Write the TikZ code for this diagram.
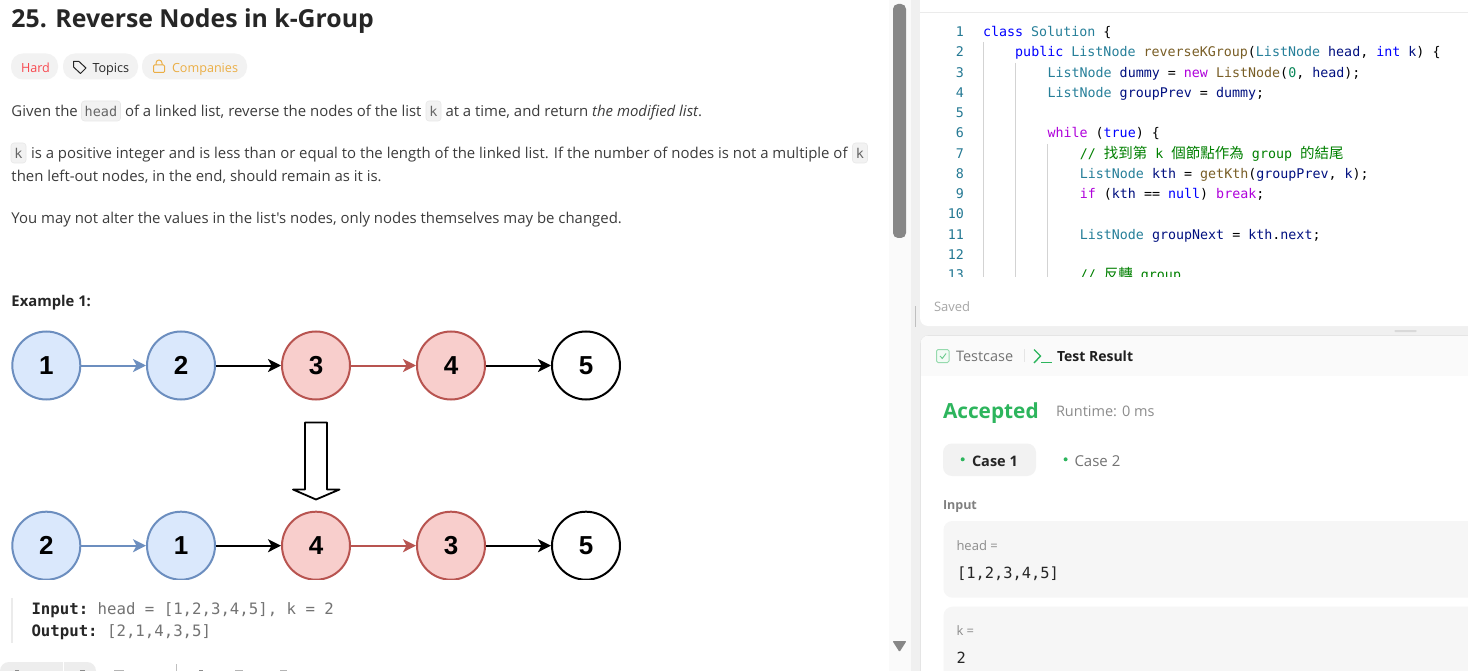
\documentclass[tikz,border=0pt]{standalone}
\usepackage{fontspec}
\setmainfont[Ligatures=TeXOff]{Open Sans}
\setsansfont{Liberation Sans}
\setmonofont{DejaVu Sans Mono}
\newfontfamily\cjkfont{Noto Sans CJK TC}
\usetikzlibrary{arrows.meta,calc}
\definecolor{blueF}{HTML}{DAE8FC}
\definecolor{blueD}{HTML}{6C8EBF}
\definecolor{redF}{HTML}{F8CECC}
\definecolor{redD}{HTML}{B85450}
\definecolor{txt}{HTML}{262626}
\definecolor{body}{HTML}{3C3C3C}
\definecolor{panel}{HTML}{F0F0F0}
\definecolor{chip}{HTML}{F2F2F2}
\definecolor{kw}{HTML}{0000FF}
\definecolor{ty}{HTML}{267F99}
\definecolor{fn}{HTML}{795E26}
\definecolor{vr}{HTML}{001080}
\definecolor{ctl}{HTML}{AF00DB}
\definecolor{cm}{HTML}{008000}
\definecolor{nm}{HTML}{098658}
\definecolor{lnum}{HTML}{237893}
\definecolor{guide}{HTML}{D3D3D3}
\definecolor{grn}{HTML}{2DB55D}
\definecolor{hardc}{HTML}{F8484F}
\definecolor{compc}{HTML}{EBAE44}
\definecolor{hintc}{HTML}{8C8C8C}
\definecolor{hintl}{HTML}{B4B4B4}
\tikzset{
 lab/.style={anchor=base west,inner sep=0pt,outer sep=0pt},
 bodytext/.style={lab,text=body,font=\fontsize{14.93}{14.93}\selectfont},
 pilltext/.style={lab,font=\fontsize{12.6}{12.6}\selectfont},
 pill/.style={fill=chip,rounded corners=12pt,inner sep=0pt,minimum height=26pt,anchor=center},
 inl/.style={fill=chip,draw=black!9,line width=.6pt,rounded corners=3pt,inner sep=0pt,minimum height=20pt,text=black!60,font=\ttfamily\fontsize{13.5}{13.5}\selectfont},
 ll/.style={circle,minimum size=68pt,inner sep=0pt,line width=2pt,font=\sffamily\bfseries\fontsize{26}{26}\selectfont,text=black},
 bn/.style={ll,fill=blueF,draw=blueD},
 rn/.style={ll,fill=redF,draw=redD},
 wn/.style={ll,fill=white,draw=black},
 barrow/.style={-{Stealth[length=13pt,width=13pt,inset=3.5pt]},line width=2pt,blueD},
 rarrow/.style={barrow,redD},
 karrow/.style={barrow,black},
 code/.style={lab,font=\ttfamily\fontsize{13.33}{13.33}\selectfont},
 lno/.style={anchor=base east,inner sep=0pt,text=lnum,font=\ttfamily\fontsize{13.33}{13.33}\selectfont},
 guideline/.style={guide,line width=.8pt},
 card/.style={fill=black!3.5,rounded corners=9pt}
}
\newcommand{\K}[1]{\textcolor{kw}{#1}}
\newcommand{\Ty}[1]{\textcolor{ty}{#1}}
\newcommand{\Fn}[1]{\textcolor{fn}{#1}}
\newcommand{\Vr}[1]{\textcolor{vr}{#1}}
\newcommand{\Ct}[1]{\textcolor{ctl}{#1}}
\newcommand{\Cj}[1]{{\cjkfont\fontsize{14.5}{14.5}\selectfont #1}}
\begin{document}
\begin{tikzpicture}[x=1pt,y=-1pt]
\useasboundingbox (0,0) rectangle (1468,671);
\fill[white] (0,0) rectangle (1468,671);
% left panel
\node[lab,text=txt,font=\fontsize{24.8}{24.8}\selectfont\bfseries] (title) at (11.5,28) {25. Reverse Nodes in k-Group};
\node[pill,minimum width=47pt] (hardp) at (34.5,66.5) {};
\node[pilltext,text=hardc] (hard) at (21,73) {Hard};
\node[pill,minimum width=75pt] (topp) at (100.5,66.5) {};
\draw[black!85,line width=1pt,line join=round] (73.5,61.5) -- (79,61.5) -- (86,68) -- (80.5,73.5) -- (73.5,67) -- cycle;
\node[pilltext,text=txt] (topics) at (92.5,73) {Topics};
\node[pill,minimum width=105pt] (comp) at (194.5,66.5) {};
\draw[compc,line width=1pt,rounded corners=1pt] (153.5,65) rectangle (164.5,72.5);
\draw[compc,line width=1pt] (156,65) -- (156,63) arc[start angle=180,end angle=360,radius=3] -- (162,65);
\node[pilltext,text=compc] (companies) at (172,73) {Companies};

\node[bodytext] (p1a) at (11.5,116.4) {Given the};
\node[inl,minimum width=39pt] (ihead) at (101,111) {head};
\node[bodytext] (p1b) at (125,116.4) {of a linked list, reverse the nodes of the list};
\node[inl,minimum width=15pt] (ik1) at (433.5,111) {k};
\node[bodytext] (p1c) at (445.5,116.4) {at a time, and return \textit{the modified list}.};
\node[inl,minimum width=15pt] (ik2) at (18.5,153) {k};
\node[bodytext] (p2a) at (31,158.4) {is a positive integer and is less than or equal to the length of the linked list. If the number of nodes is not a multiple of};
\node[inl,minimum width=15pt] (ik3) at (860,153) {k};
\node[bodytext] (p2b) at (11.5,181.4) {then left-out nodes, in the end, should remain as it is.};
\node[bodytext] (p3) at (11.5,223.4) {You may not alter the values in the list's nodes, only nodes themselves may be changed.};
\node[lab,text=txt,font=\fontsize{14.8}{14.8}\selectfont\bfseries] (ex) at (11.5,306) {Example 1:};

% diagram
\begin{scope}
\clip (0,320) rectangle (620.8,579.6);
\foreach \n/\s/\t/\x/\y in {a1/bn/1/46.3/365.5,a2/bn/2/181/365.5,a3/rn/3/316/365.5,a4/rn/4/451/365.5,a5/wn/5/586/365.5,
 b1/bn/2/46.3/545.7,b2/bn/1/181/545.7,b3/rn/4/316/545.7,b4/rn/3/451/545.7,b5/wn/5/586/545.7}
  \node[\s] (\n) at (\x,\y) {\t};
\draw[barrow] (a1) -- (a2); \draw[karrow] (a2) -- (a3); \draw[rarrow] (a3) -- (a4); \draw[karrow] (a4) -- (a5);
\draw[barrow] (b1) -- (b2); \draw[karrow] (b2) -- (b3); \draw[rarrow] (b3) -- (b4); \draw[karrow] (b4) -- (b5);
\draw[line width=1.8pt,line join=round,fill=white] (305,422.5) -- (327,422.5) -- (327,489.5) -- (339.5,489.5) -- (316,499.5) -- (293,489.5) -- (305,489.5) -- cycle;
\end{scope}

% example block
\fill[black!8] (11,598) rectangle (13,643);
\node[lab,font=\ttfamily\fontsize{15.7}{15.7}\selectfont,text=black!55] (inp) at (31.5,614) {\textcolor{txt}{\bfseries Input:} head = [1,2,3,4,5], k = 2};
\node[lab,font=\ttfamily\fontsize{15.7}{15.7}\selectfont,text=black!55] (outp) at (31.5,636) {\textcolor{txt}{\bfseries Output:} [2,1,4,3,5]};

% clipped bottom row of left panel
\begin{scope}
\clip (0,660) rectangle (889,671);
\fill[black!7,rounded corners=9pt] (0,662) rectangle (96,690);
\fill[white] (63,660) rectangle (64,671);
\fill[hintc] (15,669.5) rectangle +(4,2);
\fill[hintc] (80,669.5) rectangle +(5,2);
\fill[hintl] (114,670) rectangle +(10,1);
\fill[black!25] (176,664) rectangle +(.8,7);
\fill[hintc] (199,669.5) rectangle +(4,2);
\fill[hintl] (235,669.5) rectangle +(8,2);
\fill[hintl] (280,670) rectangle +(7,1);
\end{scope}

% scrollbar
\fill[black!2] (889,0) rectangle (911,671);
\fill[black!47,rounded corners=5pt] (893,4) rectangle (906,238);
\fill[black!47,rounded corners=1pt] (892.5,641) -- (906.5,641) -- (899.5,652) -- cycle;

% right background
\fill[panel] (911,0) rectangle (1468,671);
\fill[white,rounded corners=8pt] (920,-15) rectangle (1490,326);
\draw[black!8,line width=.7pt] (920,12.5) -- (1468,12.5);
\fill[black!25] (914.5,306) rectangle (916,327);
\fill[black!15,rounded corners=.7pt] (1394.5,330) rectangle (1416.5,332);

% code
\foreach \l/\y in {1/36.5,2/56.5,3/77.5,4/97.5,5/117.5,6/137.5,7/158.5,8/178.5,9/198.5,10/218.5,11/239.5,12/259.5}
  \node[lno] (ln\l) at (964,\y) {\l};
\draw[guideline] (983.5,42) -- (983.5,277);
\draw[guideline] (1015.5,63) -- (1015.5,277);
\draw[guideline] (1047.8,144) -- (1047.8,277);
\node[code] (c1) at (983,36.5) {\K{class} \Ty{Solution} \{};
\node[code] (c2) at (1015.2,56.5) {\K{public} \Ty{ListNode} \Fn{reverseKGroup}(\Ty{ListNode} \Vr{head}, \K{int} \Vr{k}) \{};
\node[code] (c3) at (1047.5,77.5) {\Ty{ListNode} \Vr{dummy} = \Ct{new} \Fn{ListNode}(\textcolor{nm}{0}, \Vr{head});};
\node[code] (c4) at (1047.5,97.5) {\Ty{ListNode} \Vr{groupPrev} = \Vr{dummy};};
\node[code] (c6) at (1047.5,137.5) {\Ct{while} (\K{true}) \{};
\node[code,text=cm] (c7) at (1079.8,158.5) {// \Cj{找到第} k \Cj{個節點作為} group \Cj{的結尾}};
\node[code] (c8) at (1079.8,178.5) {\Ty{ListNode} \Vr{kth} = \Fn{getKth}(\Vr{groupPrev}, \Vr{k});};
\node[code] (c9) at (1079.8,198.5) {\Ct{if} (\Vr{kth} == \K{null}) \Ct{break};};
\node[code] (c11) at (1079.8,239.5) {\Ty{ListNode} \Vr{groupNext} = \Vr{kth}.\Vr{next};};
\begin{scope}
\clip (930,262) rectangle (1468,277);
\node[lno] (ln13) at (964,279.5) {13};
\node[code,text=cm] (c13) at (1079.8,279.5) {// \Cj{反轉} group};
\end{scope}
\node[lab,text=black!35,font=\fontsize{13}{13}\selectfont] (saved) at (934,312) {Saved};

% result panel
\fill[white,rounded corners=8pt,draw=black!10,line width=.7pt] (920.5,335.5) rectangle (1490,700);
\begin{scope}
\clip[rounded corners=8pt] (920.5,335.5) rectangle (1490,700);
\fill[black!2] (920.5,335.5) rectangle (1490,376);
\end{scope}
\draw[grn!50,line width=1pt,rounded corners=1.5pt,fill=grn!6] (936.5,349.5) rectangle (949,362.5);
\draw[grn!70,line width=.9pt] (940,356) -- (942.3,358.5) -- (946,353.5);
\node[lab,text=black!55,font=\fontsize{14.5}{14.5}\selectfont] (tc) at (956,361) {Testcase};
\draw[black!10,line width=.8pt] (1024.5,349) -- (1024.5,362);
\draw[grn,line width=1.4pt] (1034,349.5) -- (1040.5,356) -- (1034,363);
\draw[grn,line width=1.4pt] (1041,362.7) -- (1052,362.7);
\node[lab,text=black!88,font=\fontsize{14}{14}\selectfont\bfseries] (tr) at (1057,361) {Test Result};
\node[lab,text=grn,font=\fontsize{20.8}{20.8}\selectfont\bfseries] (acc) at (943,418) {Accepted};
\node[lab,text=black!45,font=\fontsize{14.5}{14.5}\selectfont] (rt) at (1056,416) {Runtime: 0 ms};
\fill[black!5,rounded corners=9pt] (943,443.5) rectangle (1036,476);
\fill[grn] (962.7,459.3) circle (2);
\node[lab,text=txt,font=\fontsize{14.5}{14.5}\selectfont\bfseries] (c1t) at (972,466) {Case 1};
\fill[grn] (1065.6,459.3) circle (2);
\node[lab,text=black!55,font=\fontsize{15}{15}\selectfont] (c2t) at (1074.5,466) {Case 2};
\node[lab,text=black!50,font=\fontsize{12.5}{12.5}\selectfont\bfseries] (in) at (943,509) {Input};
\fill[card] (943.5,521) rectangle (1490,597.7);
\node[lab,text=black!45,font=\fontsize{13}{13}\selectfont] (hl) at (956.5,550) {head =};
\node[lab,text=txt,font=\ttfamily\fontsize{15.4}{15.4}\selectfont] (hv) at (957,578) {[1,2,3,4,5]};
\fill[card] (943.5,606.7) rectangle (1490,700);
\node[lab,text=black!45,font=\fontsize{13}{13}\selectfont] (kl) at (956.5,635) {k =};
\node[lab,text=txt,font=\ttfamily\fontsize{15.4}{15.4}\selectfont] (kv) at (956.5,663) {2};
\end{tikzpicture}
\end{document}
